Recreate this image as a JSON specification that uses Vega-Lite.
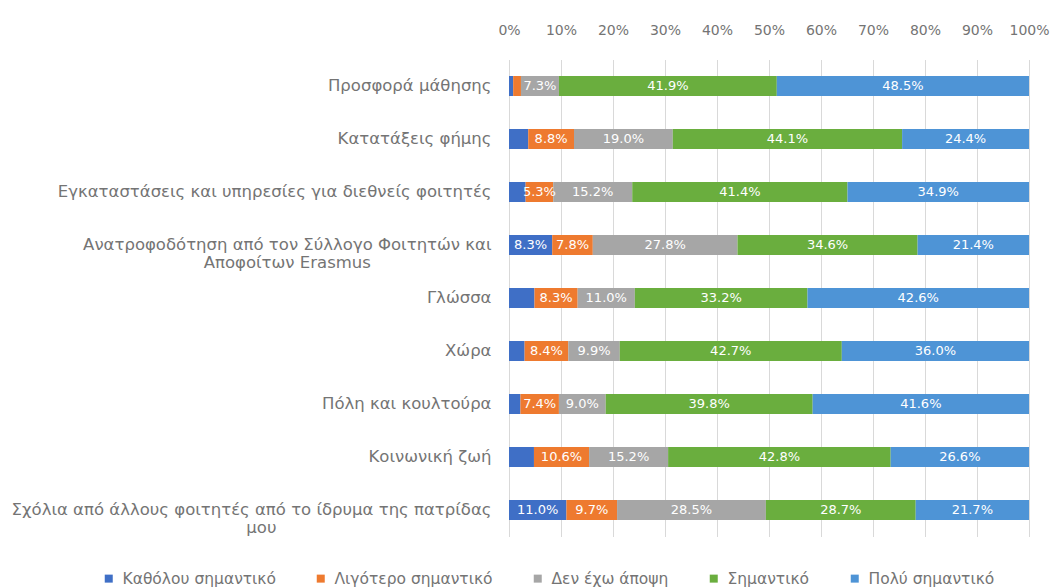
{
  "$schema": "https://vega.github.io/schema/vega-lite/v6.json",
  "autosize": {"type": "none"},
  "width": 520,
  "height": 477,
  "padding": {"left": 509, "top": 59.5, "right": 25, "bottom": 50.5},
  "background": "white",
  "config": {
    "font": "DejaVu Sans",
    "view": {"stroke": null},
    "axis": {"labelColor": "#747474", "labelFont": "DejaVu Sans"},
    "legend": {"labelColor": "#747474", "labelFont": "DejaVu Sans"}
  },
  "data": {
    "values": [
      {"cat": "Προσφορά μάθησης", "resp": "Καθόλου σημαντικό", "o": 1, "v": 0.008},
      {"cat": "Προσφορά μάθησης", "resp": "Λιγότερο σημαντικό", "o": 2, "v": 0.015},
      {"cat": "Προσφορά μάθησης", "resp": "Δεν έχω άποψη", "o": 3, "v": 0.073},
      {"cat": "Προσφορά μάθησης", "resp": "Σημαντικό", "o": 4, "v": 0.419},
      {"cat": "Προσφορά μάθησης", "resp": "Πολύ σημαντικό", "o": 5, "v": 0.485},
      {"cat": "Κατατάξεις φήμης", "resp": "Καθόλου σημαντικό", "o": 1, "v": 0.037},
      {"cat": "Κατατάξεις φήμης", "resp": "Λιγότερο σημαντικό", "o": 2, "v": 0.088},
      {"cat": "Κατατάξεις φήμης", "resp": "Δεν έχω άποψη", "o": 3, "v": 0.190},
      {"cat": "Κατατάξεις φήμης", "resp": "Σημαντικό", "o": 4, "v": 0.441},
      {"cat": "Κατατάξεις φήμης", "resp": "Πολύ σημαντικό", "o": 5, "v": 0.244},
      {"cat": "Εγκαταστάσεις και υπηρεσίες για διεθνείς φοιτητές", "resp": "Καθόλου σημαντικό", "o": 1, "v": 0.032},
      {"cat": "Εγκαταστάσεις και υπηρεσίες για διεθνείς φοιτητές", "resp": "Λιγότερο σημαντικό", "o": 2, "v": 0.053},
      {"cat": "Εγκαταστάσεις και υπηρεσίες για διεθνείς φοιτητές", "resp": "Δεν έχω άποψη", "o": 3, "v": 0.152},
      {"cat": "Εγκαταστάσεις και υπηρεσίες για διεθνείς φοιτητές", "resp": "Σημαντικό", "o": 4, "v": 0.414},
      {"cat": "Εγκαταστάσεις και υπηρεσίες για διεθνείς φοιτητές", "resp": "Πολύ σημαντικό", "o": 5, "v": 0.349},
      {"cat": "Ανατροφοδότηση από τον Σύλλογο Φοιτητών και Αποφοίτων Erasmus", "resp": "Καθόλου σημαντικό", "o": 1, "v": 0.083},
      {"cat": "Ανατροφοδότηση από τον Σύλλογο Φοιτητών και Αποφοίτων Erasmus", "resp": "Λιγότερο σημαντικό", "o": 2, "v": 0.078},
      {"cat": "Ανατροφοδότηση από τον Σύλλογο Φοιτητών και Αποφοίτων Erasmus", "resp": "Δεν έχω άποψη", "o": 3, "v": 0.278},
      {"cat": "Ανατροφοδότηση από τον Σύλλογο Φοιτητών και Αποφοίτων Erasmus", "resp": "Σημαντικό", "o": 4, "v": 0.346},
      {"cat": "Ανατροφοδότηση από τον Σύλλογο Φοιτητών και Αποφοίτων Erasmus", "resp": "Πολύ σημαντικό", "o": 5, "v": 0.214},
      {"cat": "Γλώσσα", "resp": "Καθόλου σημαντικό", "o": 1, "v": 0.049},
      {"cat": "Γλώσσα", "resp": "Λιγότερο σημαντικό", "o": 2, "v": 0.083},
      {"cat": "Γλώσσα", "resp": "Δεν έχω άποψη", "o": 3, "v": 0.110},
      {"cat": "Γλώσσα", "resp": "Σημαντικό", "o": 4, "v": 0.332},
      {"cat": "Γλώσσα", "resp": "Πολύ σημαντικό", "o": 5, "v": 0.426},
      {"cat": "Χώρα", "resp": "Καθόλου σημαντικό", "o": 1, "v": 0.030},
      {"cat": "Χώρα", "resp": "Λιγότερο σημαντικό", "o": 2, "v": 0.084},
      {"cat": "Χώρα", "resp": "Δεν έχω άποψη", "o": 3, "v": 0.099},
      {"cat": "Χώρα", "resp": "Σημαντικό", "o": 4, "v": 0.427},
      {"cat": "Χώρα", "resp": "Πολύ σημαντικό", "o": 5, "v": 0.360},
      {"cat": "Πόλη και κουλτούρα", "resp": "Καθόλου σημαντικό", "o": 1, "v": 0.022},
      {"cat": "Πόλη και κουλτούρα", "resp": "Λιγότερο σημαντικό", "o": 2, "v": 0.074},
      {"cat": "Πόλη και κουλτούρα", "resp": "Δεν έχω άποψη", "o": 3, "v": 0.090},
      {"cat": "Πόλη και κουλτούρα", "resp": "Σημαντικό", "o": 4, "v": 0.398},
      {"cat": "Πόλη και κουλτούρα", "resp": "Πολύ σημαντικό", "o": 5, "v": 0.416},
      {"cat": "Κοινωνική ζωή", "resp": "Καθόλου σημαντικό", "o": 1, "v": 0.048},
      {"cat": "Κοινωνική ζωή", "resp": "Λιγότερο σημαντικό", "o": 2, "v": 0.106},
      {"cat": "Κοινωνική ζωή", "resp": "Δεν έχω άποψη", "o": 3, "v": 0.152},
      {"cat": "Κοινωνική ζωή", "resp": "Σημαντικό", "o": 4, "v": 0.428},
      {"cat": "Κοινωνική ζωή", "resp": "Πολύ σημαντικό", "o": 5, "v": 0.266},
      {"cat": "Σχόλια από άλλους φοιτητές από το ίδρυμα της πατρίδας μου", "resp": "Καθόλου σημαντικό", "o": 1, "v": 0.110},
      {"cat": "Σχόλια από άλλους φοιτητές από το ίδρυμα της πατρίδας μου", "resp": "Λιγότερο σημαντικό", "o": 2, "v": 0.097},
      {"cat": "Σχόλια από άλλους φοιτητές από το ίδρυμα της πατρίδας μου", "resp": "Δεν έχω άποψη", "o": 3, "v": 0.285},
      {"cat": "Σχόλια από άλλους φοιτητές από το ίδρυμα της πατρίδας μου", "resp": "Σημαντικό", "o": 4, "v": 0.287},
      {"cat": "Σχόλια από άλλους φοιτητές από το ίδρυμα της πατρίδας μου", "resp": "Πολύ σημαντικό", "o": 5, "v": 0.217}
    ]
  },
  "encoding": {
    "y": {
      "field": "cat",
      "type": "nominal",
      "sort": null,
      "axis": {
        "title": null,
        "domain": false,
        "ticks": false,
        "labelPadding": 18,
        "labelFontSize": 16.5,
        "labelLimit": 1000,
        "labelLineHeight": 18,
        "labelExpr": "indexof(datum.label, 'Erasmus') >= 0 ? ['Ανατροφοδότηση από τον Σύλλογο Φοιτητών και', 'Αποφοίτων Erasmus\u00a0\u00a0\u00a0\u00a0\u00a0\u00a0\u00a0\u00a0\u00a0\u00a0\u00a0\u00a0\u00a0\u00a0\u00a0\u00a0\u00a0\u00a0\u00a0\u00a0\u00a0\u00a0\u00a0\u200b'] : indexof(datum.label, 'Σχόλια') >= 0 ? ['Σχόλια από άλλους φοιτητές από το ίδρυμα της πατρίδας', 'μου\u00a0\u00a0\u00a0\u00a0\u00a0\u00a0\u00a0\u00a0\u00a0\u00a0\u00a0\u00a0\u00a0\u00a0\u00a0\u00a0\u00a0\u00a0\u00a0\u00a0\u00a0\u00a0\u00a0\u00a0\u00a0\u00a0\u00a0\u00a0\u00a0\u00a0\u00a0\u00a0\u00a0\u00a0\u00a0\u00a0\u00a0\u00a0\u00a0\u00a0\u00a0\u200b'] : datum.label"
      }
    }
  },
  "layer": [
    {
      "mark": {"type": "bar", "height": 20},
      "encoding": {
        "x": {
          "field": "v",
          "type": "quantitative",
          "stack": "normalize",
          "scale": {"domain": [0, 1]},
          "axis": {
            "orient": "top",
            "title": null,
            "format": ".0%",
            "values": [0, 0.1, 0.2, 0.3, 0.4, 0.5, 0.6, 0.7, 0.8, 0.9, 1],
            "domain": false,
            "ticks": false,
            "labelFlush": false,
            "labelOverlap": false,
            "labelPadding": 22,
            "labelFontSize": 14,
            "grid": true,
            "gridColor": "#d9d9d9",
            "gridWidth": 1
          }
        },
        "color": {
          "field": "resp",
          "type": "nominal",
          "sort": ["Καθόλου σημαντικό", "Λιγότερο σημαντικό", "Δεν έχω άποψη", "Σημαντικό", "Πολύ σημαντικό"],
          "scale": {
            "domain": ["Καθόλου σημαντικό", "Λιγότερο σημαντικό", "Δεν έχω άποψη", "Σημαντικό", "Πολύ σημαντικό"],
            "range": ["#3F6FC6", "#EE7A2F", "#A6A6A6", "#6AAE3E", "#4E94D6"]
          },
          "legend": {
            "title": null,
            "orient": "none",
            "direction": "horizontal",
            "legendX": -408,
            "legendY": 511,
            "symbolType": "square",
            "symbolSize": 64,
            "symbolStrokeWidth": 0,
            "labelFontSize": 15.5,
            "labelOffset": 6,
            "columnPadding": 37,
            "labelLimit": 300
          }
        },
        "order": {"field": "o", "type": "quantitative"}
      }
    },
    {
      "transform": [
        {"stack": "v", "groupby": ["cat"], "sort": [{"field": "o"}], "offset": "normalize", "as": ["v0", "v1"]},
        {"filter": "datum.v >= 0.05"},
        {"calculate": "(datum.v0 + datum.v1) / 2", "as": "mid"}
      ],
      "mark": {"type": "text", "color": "white", "fontSize": 13, "font": "DejaVu Sans"},
      "encoding": {
        "x": {"field": "mid", "type": "quantitative"},
        "text": {"field": "v", "type": "quantitative", "format": ".1%"}
      }
    }
  ]
}
